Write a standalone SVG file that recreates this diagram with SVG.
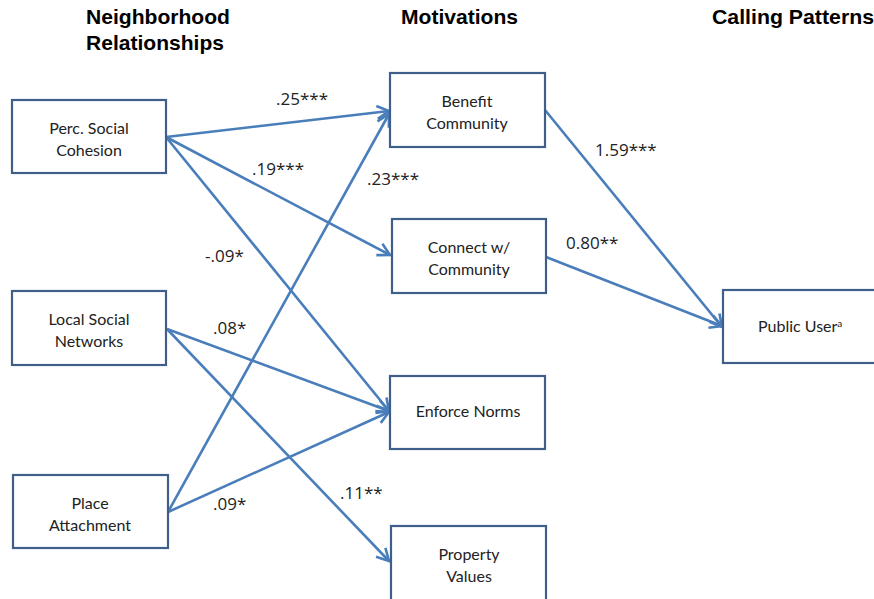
<svg xmlns="http://www.w3.org/2000/svg" width="874" height="599" viewBox="0 0 874 599">
<style>
.box{fill:#fff;stroke:#3F5E8A;stroke-width:2.2}
.nt{font-family:Lato,"Open Sans",sans-serif;font-size:16px;fill:#222;text-anchor:middle}
.lbl{font-family:"Open Sans",Lato,sans-serif;font-size:17px;fill:#222}
.ttl{font-family:"Liberation Sans",Arial,sans-serif;font-weight:bold;font-size:21px;fill:#000}
.ln{stroke:#4A7EBB;stroke-width:2.6;fill:none;marker-end:url(#ah)}
</style>
<defs>
<marker id="ah" markerUnits="userSpaceOnUse" markerWidth="16" markerHeight="16" viewBox="0 0 16 16" refX="13" refY="8" orient="auto">
<path d="M1,1.5 L13,8 L1,14.5" fill="none" stroke="#4A7EBB" stroke-width="2.6"/>
</marker>
</defs>
<rect width="874" height="599" fill="#fff"/>
<g id="titles">
<text class="ttl" x="86" y="24" textLength="144" lengthAdjust="spacingAndGlyphs">Neighborhood</text>
<text class="ttl" x="86" y="50" textLength="138" lengthAdjust="spacingAndGlyphs">Relationships</text>
<text class="ttl" x="401" y="24" textLength="117" lengthAdjust="spacingAndGlyphs">Motivations</text>
<text class="ttl" x="712" y="24" textLength="162" lengthAdjust="spacingAndGlyphs">Calling Patterns</text>
</g>
<g id="connectors">
<line class="ln" x1="166" y1="137" x2="389" y2="111"/>
<line class="ln" x1="166" y1="137" x2="390" y2="255"/>
<line class="ln" x1="166" y1="137" x2="389" y2="411"/>
<line class="ln" x1="167" y1="329" x2="389" y2="411"/>
<line class="ln" x1="167" y1="329" x2="389" y2="561"/>
<line class="ln" x1="168" y1="512" x2="389" y2="114"/>
<line class="ln" x1="168" y1="512" x2="389" y2="412"/>
<line class="ln" x1="545" y1="110" x2="722" y2="327"/>
<line class="ln" x1="546" y1="257" x2="722" y2="326"/>
</g>
<g id="labels">
<text class="lbl" x="276" y="105">.25***</text>
<text class="lbl" x="252" y="175">.19***</text>
<text class="lbl" x="367" y="185">.23***</text>
<text class="lbl" x="205" y="262">-.09*</text>
<text class="lbl" x="213" y="334">.08*</text>
<text class="lbl" x="213" y="510">.09*</text>
<text class="lbl" x="340" y="499">.11**</text>
<text class="lbl" x="595" y="156">1.59***</text>
<text class="lbl" x="566" y="249">0.80**</text>
</g>
<g id="n-cohesion">
<rect class="box" x="12" y="100" width="154" height="73"/>
<text class="nt" x="89" y="134">Perc. Social</text>
<text class="nt" x="89" y="156">Cohesion</text>
</g>
<g id="n-networks">
<rect class="box" x="12" y="291" width="154" height="74"/>
<text class="nt" x="89" y="325">Local Social</text>
<text class="nt" x="89" y="347">Networks</text>
</g>
<g id="n-attachment">
<rect class="box" x="13" y="475" width="155" height="73"/>
<text class="nt" x="90" y="509">Place</text>
<text class="nt" x="90" y="531">Attachment</text>
</g>
<g id="n-benefit">
<rect class="box" x="390" y="73" width="155" height="74"/>
<text class="nt" x="467" y="107">Benefit</text>
<text class="nt" x="467" y="129">Community</text>
</g>
<g id="n-connect">
<rect class="box" x="392" y="219" width="154" height="74"/>
<text class="nt" x="469" y="253">Connect w/</text>
<text class="nt" x="469" y="275">Community</text>
</g>
<g id="n-enforce">
<rect class="box" x="390" y="376" width="155" height="73"/>
<text class="nt" x="468" y="417">Enforce Norms</text>
</g>
<g id="n-property">
<rect class="box" x="391" y="526" width="155" height="80"/>
<text class="nt" x="469" y="560">Property</text>
<text class="nt" x="469" y="582">Values</text>
</g>
<g id="n-public">
<rect class="box" x="723" y="290" width="160" height="73"/>
<text class="nt" x="758" y="332" style="text-anchor:start">Public User<tspan font-size="10" dy="-5">a</tspan></text>
</g>
</svg>
